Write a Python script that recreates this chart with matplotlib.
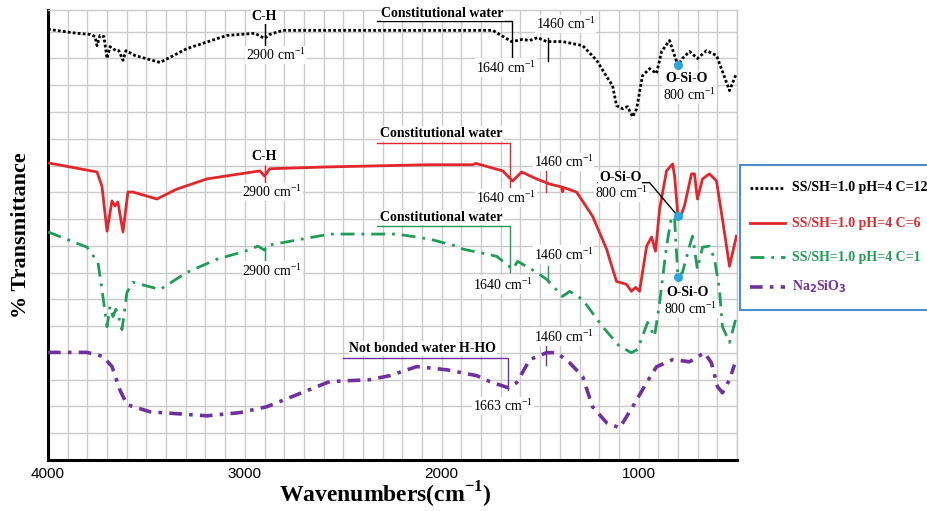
import numpy as np
import matplotlib.pyplot as plt
from matplotlib.patches import Rectangle
from matplotlib.lines import Line2D

plt.rcParams['font.family'] = ['Liberation Serif', 'DejaVu Serif']

# FTIR spectra: wavenumber (cm-1) vs transmittance (stacked, arbitrary units)
wn_c12 = [4000, 3853, 3787, 3761, 3751, 3736, 3716, 3700, 3685, 3670, 3655, 3640, 3619, 3604,
          3558, 3431, 3294, 3091, 2949, 2900, 2873, 2807, 1741, 1645, 1589, 1553, 1513, 1467,
          1386, 1284, 1213, 1162, 1132, 1112, 1081, 1056, 1030, 1010, 980, 944, 909, 883, 843,
          800, 777, 741, 701, 655, 604, 538, 503]
t_c12 = [16.09, 15.94, 15.90, 15.82, 15.48, 15.86, 15.82, 15.00, 15.44, 15.37, 15.29, 15.29, 14.93, 15.29,
         15.11, 14.85, 15.37, 15.86, 15.94, 15.75, 15.90, 16.05, 16.05, 15.63, 15.71, 15.67, 15.78, 15.63,
         15.63, 15.48, 14.93, 14.32, 13.98, 13.24, 13.12, 13.20, 12.82, 13.12, 14.36, 14.62, 14.44, 15.26, 15.67,
         14.74, 15.00, 15.26, 15.00, 15.29, 15.11, 13.80, 14.44]

wn_c6 = [4000, 3751, 3726, 3700, 3675, 3660, 3645, 3619, 3594, 3569, 3447, 3345, 3193, 2924, 2900,
         2873, 2569, 2061, 1843, 1827, 1690, 1640, 1594, 1518, 1452, 1391, 1386, 1381, 1315, 1234,
         1162, 1147, 1112, 1061, 1036, 1015, 995, 959, 934, 914, 893, 858, 827, 817, 800, 782, 767,
         731, 716, 701, 675, 640, 604, 574, 538, 503]
t_c6 = [11.10, 10.76, 10.23, 8.55, 9.68, 9.49, 9.64, 8.52, 10.01, 10.01, 9.75, 10.12, 10.50, 10.80, 10.61,
        10.88, 10.95, 11.03, 11.03, 11.08, 10.80, 10.42, 10.76, 10.50, 10.31, 10.20, 10.02, 10.18, 10.01, 9.11,
        7.87, 7.50, 6.67, 6.56, 6.30, 6.45, 6.30, 7.99, 8.33, 7.80, 9.37, 10.80, 11.06, 10.61, 9.11, 9.19, 9.49,
        10.69, 10.69, 9.75, 10.50, 10.69, 10.42, 9.00, 7.24, 8.36]

wn_c1 = [4000, 3802, 3746, 3721, 3700, 3685, 3670, 3655, 3640, 3624, 3599, 3569, 3431, 3294, 3142,
         3000, 2934, 2900, 2883, 2569, 2228, 2061, 1924, 1893, 1721, 1640, 1614, 1518, 1467, 1386,
         1350, 1284, 1183, 1096, 1036, 1005, 954, 919, 893, 858, 832, 817, 800, 777, 741, 726, 701,
         675, 640, 614, 589, 574, 538, 503]
t_c1 = [8.52, 7.95, 7.38, 6.11, 4.98, 5.74, 5.36, 5.63, 5.32, 4.87, 6.26, 6.64, 6.37, 7.01, 7.50,
        7.80, 7.99, 7.84, 8.02, 8.44, 8.44, 8.25, 7.99, 7.88, 7.61, 7.13, 7.42, 7.01, 6.75, 6.11,
        6.30, 5.99, 4.98, 4.24, 4.01, 4.13, 5.14, 4.61, 5.89, 7.99, 9.11, 9.00, 6.83, 7.01, 7.99, 8.36, 7.13,
        7.95, 7.99, 7.50, 6.37, 4.98, 4.39, 5.36]

wn_na = [4000, 3802, 3721, 3675, 3635, 3599, 3482, 3193, 3025, 2888, 2569, 2366, 2264, 2127, 1975,
         1822, 1756, 1663, 1619, 1553, 1467, 1416, 1350, 1284, 1234, 1162, 1096, 1030, 959, 909,
         827, 741, 665, 630, 599, 574, 538, 513]
t_na = [4.02, 4.02, 3.87, 3.49, 2.62, 2.07, 1.80, 1.65, 1.77, 1.99, 2.93, 3.00, 3.15, 3.49, 3.37,
        3.15, 2.93, 2.70, 2.89, 3.75, 4.01, 4.01, 3.63, 3.12, 1.99, 1.39, 1.20, 1.99, 2.89, 3.48,
        3.75, 3.67, 4.01, 3.63, 2.74, 2.51, 3.00, 3.56]

series_labels = ['SS/SH=1.0 pH=4 C=12', 'SS/SH=1.0 pH=4 C=6', 'SS/SH=1.0 pH=4 C=1',
                 'Na$_\\mathbf{2}$SiO$_\\mathbf{3}$']

RED = '#e3262b'
GREEN = '#1e9d57'
PURPLE = '#7030a0'
DOT = '#2aa6df'
CM = 'cm$^{\\mathregular{-1}}$'

styles = [
    dict(color='black', lw=2.0, ls=(0, (1, 0.8))),
    dict(color=RED, lw=2.0, ls='-'),
    dict(color=GREEN, lw=2.0, ls=(0, (5, 2.5, 1, 2.5))),
    dict(color=PURPLE, lw=2.6, ls=(0, (3.5, 2, 1, 2))),
]

fig = plt.figure(figsize=(9.28, 5.11), dpi=100)
ax = fig.add_axes([48 / 928, 51 / 511, 689 / 928, 450 / 511])

for (x, y), st in zip([(wn_c12, t_c12), (wn_c6, t_c6), (wn_c1, t_c1), (wn_na, t_na)], styles):
    ax.plot(x, y, color=st['color'], lw=st['lw'], ls=st['ls'], zorder=3,
            solid_joinstyle='round', dash_joinstyle='round')

ax.set_xlim(4000, 500)
ax.set_ylim(0, 16.81)
ax.set_xticks([4000, 3000, 2000, 1000])
ax.set_xticks(np.arange(500, 4001, 100), minor=True)
ax.set_yticks(np.arange(0, 17, 1))
ax.set_yticklabels([])
ax.grid(True, which='both', color='#cbcbcb', lw=1.0, zorder=0)
ax.tick_params(which='both', length=0, labelsize=11, pad=5)
for lbl in ax.get_xticklabels():
    lbl.set_fontfamily('Liberation Sans')
for s in ['top', 'right']:
    ax.spines[s].set_color('#cbcbcb')
    ax.spines[s].set_linewidth(1.0)
for s in ['left', 'bottom']:
    ax.spines[s].set_color('black')
    ax.spines[s].set_linewidth(2.2)

ax.set_ylabel('% Transmittance', fontsize=16, fontweight='bold')
ax.yaxis.set_label_coords(-0.025, 0.5)
ax.set_xlabel('Wavenumbers(' + CM + ')', fontsize=17, fontweight='bold')
ax.xaxis.set_label_coords(0.49, -0.044)


def note(x, y, s, bold=False, size=10):
    ax.text(x, y, s, ha='center', va='center', fontsize=size,
            fontweight='bold' if bold else 'normal', color='black', zorder=5,
            bbox=dict(fc='white', ec='none', pad=0.6))


def seg(xs, ys, color, lw=1.0):
    ax.plot(xs, ys, color=color, lw=lw, zorder=4)


# C=12 labels
note(2900, 16.57, 'C-H', bold=True)
seg([2900, 2900], [16.31, 15.44], 'black')
note(2840, 15.14, '2900 ' + CM)
note(1995, 16.68, 'Constitutional water', bold=True)
seg([2330, 1645, 1645], [16.39, 16.39, 15.04], 'black')
note(1675, 14.66, '1640 ' + CM)
note(1371, 16.28, '1460 ' + CM)
seg([1460, 1460], [15.78, 14.89], 'black')
note(756, 14.25, 'O-Si-O', bold=True)
note(741, 13.65, '800 ' + CM)

# C=6 labels
note(2900, 11.32, 'C-H', bold=True)
seg([2900, 2900], [10.99, 10.38], RED)
note(2860, 10.01, '2900 ' + CM)
note(2000, 12.19, 'Constitutional water', bold=True)
seg([2330, 1655, 1655], [11.85, 11.85, 10.20], RED)
note(1675, 9.79, '1640 ' + CM)
note(1381, 11.14, '1460 ' + CM)
seg([1470, 1470], [10.88, 10.01], RED)
note(1092, 10.54, 'O-Si-O', bold=True)
note(1086, 9.97, '800 ' + CM)
seg([1208, 944, 800], [10.36, 10.36, 9.11], 'black')

# C=1 labels
note(2860, 7.09, '2900 ' + CM)
seg([2900, 2900], [7.95, 7.42], GREEN)
note(2000, 9.07, 'Constitutional water', bold=True)
seg([2330, 1655, 1655], [8.73, 8.73, 7.01], GREEN)
note(1690, 6.56, '1640 ' + CM)
note(1381, 7.68, '1460 ' + CM)
seg([1460, 1460], [7.24, 6.64], GREEN)
note(751, 6.26, 'O-Si-O', bold=True)
note(736, 5.66, '800 ' + CM)

# Na2SiO3 labels
note(2096, 4.16, 'Not bonded water H-HO', bold=True)
seg([2503, 1663, 1663], [3.82, 3.82, 2.62], PURPLE)
note(1690, 2.02, '1663 ' + CM)
note(1381, 4.61, '1460 ' + CM)
seg([1470, 1470], [4.31, 3.56], PURPLE)

# O-Si-O band markers at 800 cm-1
ax.plot([800, 800, 800], [14.74, 9.11, 6.83], 'o', color=DOT, ms=5.5, zorder=6)

# legend box, running off the right edge
fig.add_artist(Rectangle((740 / 928, 1 - 310 / 511), 0.3, 145 / 511, transform=fig.transFigure,
                         fc='white', ec='#4a8dcc', lw=1.5, zorder=10))
rows = [188, 223, 257, 287]
for st, lab, py in zip(styles, series_labels, rows):
    yf = 1 - py / 511
    fig.add_artist(Line2D([750 / 928, 785 / 928], [yf, yf], transform=fig.transFigure,
                          color=st['color'], lw=st['lw'], ls=st['ls'], zorder=11))
    fig.text(792 / 928, yf, lab, color=st['color'], fontsize=10, fontweight='bold',
             va='center', ha='left', zorder=12)

fig.savefig('out.png', dpi=100)
